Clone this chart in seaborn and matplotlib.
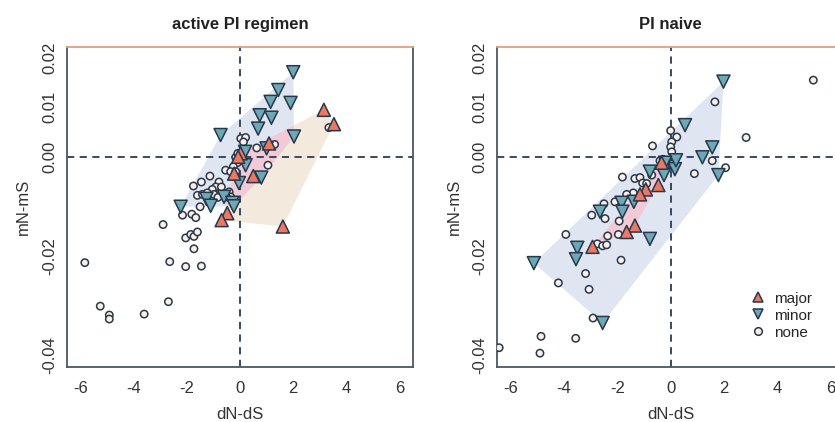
import numpy as np
import pandas as pd
import matplotlib
matplotlib.use("Agg")
import matplotlib.pyplot as plt
from matplotlib.patches import Polygon
import seaborn as sns

# ---- data ----
# active PI regimen
left_minor_x = [2.0, 1.44, 1.15, 1.9, 0.74, 1.18, 0.68, -0.73, 2.03, 0.19, 1.0, 0.21,
                0.8, -0.04, -0.6, -1.26, -1.1, -0.29, -2.23, -0.23]
left_minor_y = [0.0171, 0.0135, 0.0111, 0.0109, 0.0084, 0.0079, 0.0057, 0.0044, 0.0041,
                0.0010, 0.0017, -0.0017, -0.0042, -0.0053, -0.0081, -0.0085, -0.0099,
                -0.0093, -0.0101, -0.0100]
left_major_x = [3.15, 3.53, 1.09, 0.5, -0.48, -0.69, 1.61, 0.02, -0.07, -0.22]
left_major_y = [0.0095, 0.0066, 0.0027, -0.0039, -0.0114, -0.0128, -0.0141, 0.0007, 0.0, -0.0034]
left_none_x = [0.03, 0.21, 0.13, 0.63, 1.3, 1.05, -0.16, -0.1, -0.25, -0.54, -0.35, -0.16,
               -1.13, -1.45, -1.75, -0.79, -0.91, -1.04, -0.7, -1.6, -1.41, -1.23, -0.98,
               -0.41, -0.35, -0.51, -0.83, -1.5, -2.16, -1.81, -1.66, -2.89, -2.04, -1.85,
               -1.73, -1.6, -1.73, -5.83, -2.64, -2.04, -1.45, -5.25, -4.91, -4.91, -3.6,
               -2.69, 3.34, -0.08]
left_none_y = [0.0037, 0.0039, 0.003, 0.0018, 0.0025, -0.0017, -0.0001, -0.0012, -0.002,
               -0.0027, -0.003, -0.003, -0.0039, -0.0051, -0.0059, -0.0051, -0.0061, -0.0066,
               -0.0061, -0.0078, -0.0076, -0.0073, -0.0076, -0.0071, -0.0081, -0.0081,
               -0.0082, -0.0101, -0.0118, -0.0116, -0.0123, -0.0137, -0.0164, -0.0157,
               -0.0161, -0.0152, -0.0186, -0.0214, -0.0212, -0.0222, -0.0221, -0.0302,
               -0.032, -0.0328, -0.0318, -0.0293, 0.0059, 0.0007]

# PI naive
right_minor_x = [1.98, 0.54, 1.56, 1.19, 0.16, 0.2, -0.21, -0.25, 1.79, -0.78, -1.38,
                 -1.84, -1.81, -2.65, -0.78, -3.5, -3.55, -5.13, -2.55]
right_minor_y = [0.0152, 0.0064, 0.0019, -0.0001, -0.0025, -0.0007, -0.0012, -0.0037,
                 -0.0037, -0.003, -0.0091, -0.0093, -0.0111, -0.0111, -0.0166, -0.0184,
                 -0.0207, -0.0215, -0.0336]
right_major_x = [-0.46, -0.93, -1.15, -1.34, -1.65, -2.93, -0.34]
right_major_y = [-0.0057, -0.0066, -0.0076, -0.0139, -0.0152, -0.0182, -0.0012]
right_none_x = [5.35, 1.66, 2.83, 0.0, 0.23, 0.04, 0.0, 0.04, -0.68, 1.56, 2.06, 0.89,
                -0.4, -0.28, -0.15, -0.34, -1.81, -1.34, -1.15, -1.05, -0.71, -0.9, -1.4,
                -1.65, -2.09, -2.5, -2.96, -2.46, -1.93, -1.96, -2.36, -2.75, -2.55, -2.4,
                -3.93, -1.86, -3.19, -4.21, -3.06, -2.91, -4.86, -3.56, -6.43, -4.9, -0.2, 0.05]
right_none_y = [0.0155, 0.0111, 0.0039, 0.0053, 0.004, 0.003, 0.002, 0.001, 0.0022, -0.0008,
                -0.0022, -0.0034, -0.0008, -0.0005, -0.001, -0.0017, -0.0041, -0.0044,
                -0.0042, -0.0053, -0.0037, -0.0054, -0.0073, -0.0076, -0.0091, -0.0095,
                -0.0118, -0.0125, -0.013, -0.0157, -0.016, -0.0176, -0.018, -0.0178,
                -0.0157, -0.0209, -0.0236, -0.0255, -0.0268, -0.0326, -0.0363, -0.0367,
                -0.0386, -0.0397, -0.002, -0.0015]

x_ticks = [-6, -4, -2, 0, 2, 4, 6]
y_ticks = [0.02, 0.01, 0.0, -0.01, -0.02, -0.03, -0.04]
y_ticklabels = ["0.02", "0.01", "0.00", "", "-0.02", "", "-0.04"]

EDGE = "#26384a"
palette = {"major": "#ee7763", "minor": "#6ea8b6", "none": "#fbefe8"}
BLUE, TAN, PINK = "#e0e5f2", "#f3eadd", "#f2c9d7"


def hull(xs, ys):
    pts = sorted(set(zip(xs, ys)))
    def cross(o, a, b):
        return (a[0] - o[0]) * (b[1] - o[1]) - (a[1] - o[1]) * (b[0] - o[0])
    lower, upper = [], []
    for p in pts:
        while len(lower) >= 2 and cross(lower[-2], lower[-1], p) <= 0:
            lower.pop()
        lower.append(p)
    for p in reversed(pts):
        while len(upper) >= 2 and cross(upper[-2], upper[-1], p) <= 0:
            upper.pop()
        upper.append(p)
    return lower[:-1] + upper[:-1]


def clip(subject, clipper):
    # Sutherland-Hodgman, clipper convex and counter-clockwise
    out = subject
    for i in range(len(clipper)):
        a, b = clipper[i - 1], clipper[i]
        inside = lambda p: (b[0] - a[0]) * (p[1] - a[1]) - (b[1] - a[1]) * (p[0] - a[0]) >= 0
        def inter(p, q):
            x1, y1, x2, y2 = p[0], p[1], q[0], q[1]
            x3, y3, x4, y4 = a[0], a[1], b[0], b[1]
            d = (x1 - x2) * (y3 - y4) - (y1 - y2) * (x3 - x4)
            t = ((x1 - x3) * (y3 - y4) - (y1 - y3) * (x3 - x4)) / d
            return (x1 + t * (x2 - x1), y1 + t * (y2 - y1))
        inp, out = out, []
        for j in range(len(inp)):
            p, q = inp[j - 1], inp[j]
            if inside(q):
                if not inside(p):
                    out.append(inter(p, q))
                out.append(q)
            elif inside(p):
                out.append(inter(p, q))
        if not out:
            break
    return out


def panel(ax, title, mx, my, jx, jy, nx, ny, legend):
    df = pd.DataFrame({
        "dN-dS": nx + mx + jx,
        "mN-mS": ny + my + jy,
        "type": ["none"] * len(nx) + ["minor"] * len(mx) + ["major"] * len(jx),
    })
    hm, hj = hull(mx, my), hull(jx, jy)
    ax.add_patch(Polygon(hm, closed=True, fc=BLUE, ec="none", zorder=0))
    ax.add_patch(Polygon(hj, closed=True, fc=TAN, ec="none", zorder=0))
    ov = clip(hj, hm)
    if len(ov) > 2:
        ax.add_patch(Polygon(ov, closed=True, fc=PINK, ec="none", zorder=0.5))
    ax.axhline(0, color="#2b3d52", lw=1.3, ls=(0, (4, 3)), zorder=1)
    ax.axvline(0, color="#2b3d52", lw=1.3, ls=(0, (4, 3)), zorder=1)
    sns.scatterplot(data=df, x="dN-dS", y="mN-mS", hue="type", style="type", size="type",
                    hue_order=["major", "minor", "none"],
                    markers={"major": "^", "minor": "v", "none": "o"},
                    sizes={"major": 88, "minor": 88, "none": 28},
                    palette=palette, edgecolor=EDGE, linewidth=1.1,
                    ax=ax, legend=legend, zorder=3)
    ax.set_xlim(-6.5, 6.5)
    ax.set_ylim(-0.0425, 0.0222)
    ax.set_xticks(x_ticks)
    ax.set_xticklabels([str(t) for t in x_ticks])
    ax.set_yticks(y_ticks)
    ax.set_yticklabels(y_ticklabels, rotation=90, va="center")
    ax.tick_params(direction="out", length=5, width=1, color="#4a5866", pad=5,
                   labelsize=12, labelcolor="#333333")
    ax.tick_params(axis="y", pad=2)
    for s in ax.spines.values():
        s.set_color("#4a5866")
        s.set_linewidth(1.3)
    ax.spines["top"].set_color("#e89a80")
    ax.set_title(title, fontweight="bold", fontsize=12, pad=13, color="#222222")
    ax.set_xlabel("dN-dS", fontsize=12, color="#333333", labelpad=8)
    ax.set_ylabel("mN-mS", fontsize=12, color="#333333", labelpad=8)


sns.set_style("white")
plt.rcParams["font.family"] = ["Liberation Sans Narrow", "Liberation Sans", "DejaVu Sans"]

fig = plt.figure(figsize=(8.35, 4.22), dpi=100)
ax1 = fig.add_axes([67 / 835, 55 / 422, 346 / 835, 320 / 422])
ax2 = fig.add_axes([497.3 / 835, 55 / 422, 346.7 / 835, 320 / 422])

panel(ax1, "active PI regimen", left_minor_x, left_minor_y, left_major_x, left_major_y,
      left_none_x, left_none_y, False)
panel(ax2, "PI naive", right_minor_x, right_minor_y, right_major_x, right_major_y,
      right_none_x, right_none_y, True)

sns.move_legend(ax2, "upper left", bbox_to_anchor=(0.69, 0.255), frameon=False, title=None,
                fontsize=11, handletextpad=0.05, labelspacing=0.2, borderaxespad=0)
leg = ax2.get_legend()
for h, lab in zip(leg.legend_handles, leg.get_texts()):
    if hasattr(h, "set_sizes"):
        h.set_sizes([32] if lab.get_text() == "none" else [52])
    else:
        h.set_markersize(5.5 if lab.get_text() == "none" else 7.5)

fig.savefig("out.png", dpi=100)
